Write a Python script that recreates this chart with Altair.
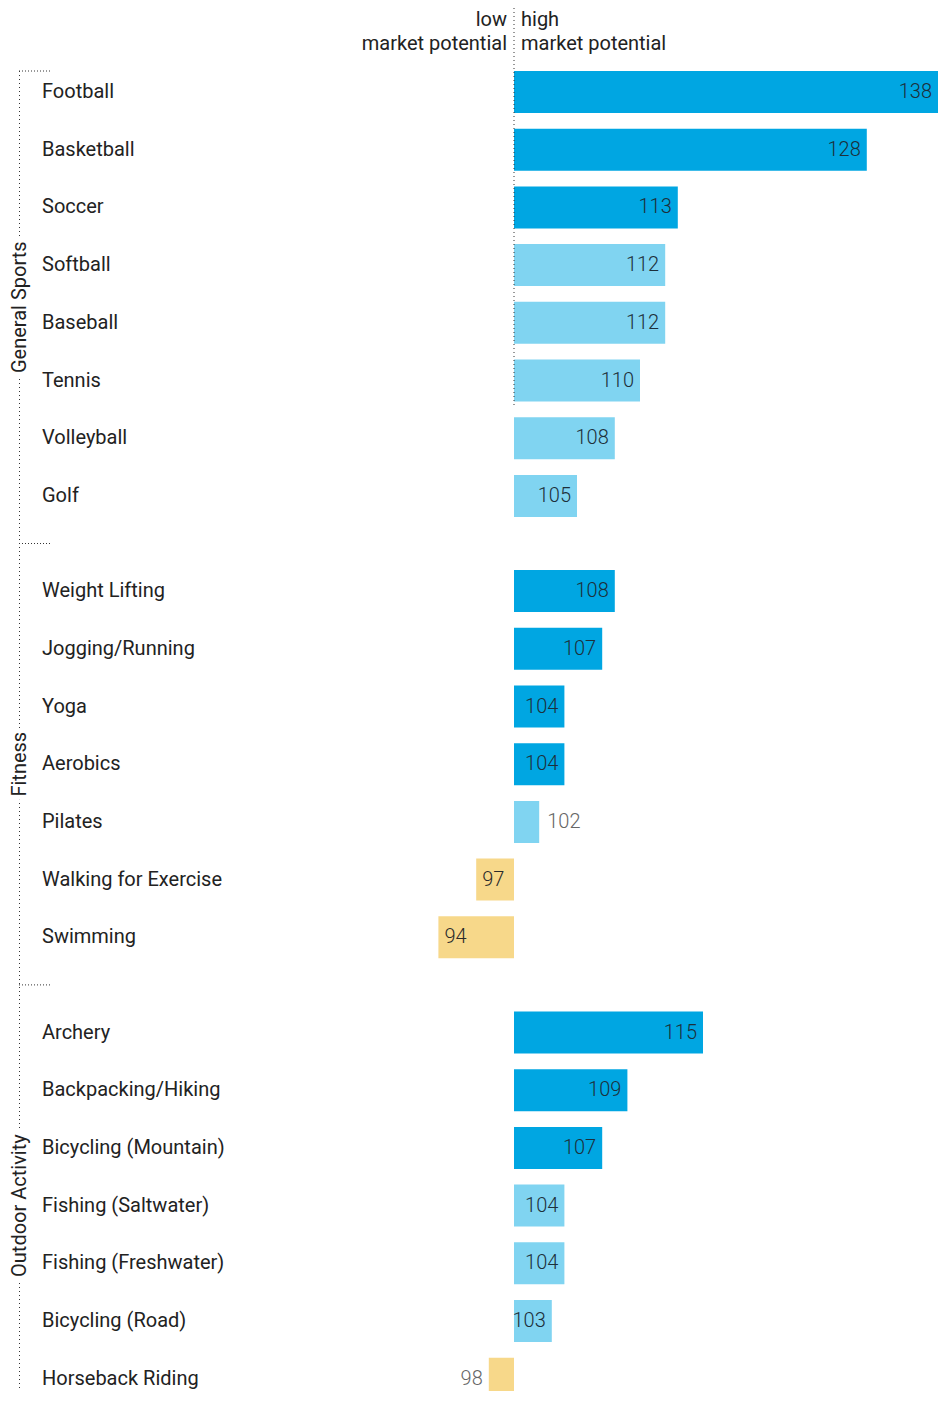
import altair as alt
import pandas as pd

# ---------------- data ----------------
groups = ["General Sports", "Fitness", "Outdoor Activity"]
activities = [
    ["Football", "Basketball", "Soccer", "Softball", "Baseball", "Tennis", "Volleyball", "Golf"],
    ["Weight Lifting", "Jogging/Running", "Yoga", "Aerobics", "Pilates", "Walking for Exercise", "Swimming"],
    ["Archery", "Backpacking/Hiking", "Bicycling (Mountain)", "Fishing (Saltwater)",
     "Fishing (Freshwater)", "Bicycling (Road)", "Horseback Riding"],
]
values = [
    [138, 128, 113, 112, 112, 110, 108, 105],
    [108, 107, 104, 104, 102, 97, 94],
    [115, 109, 107, 104, 104, 103, 98],
]
tiers = [
    ["strong", "strong", "strong", "moderate", "moderate", "moderate", "moderate", "moderate"],
    ["strong", "strong", "strong", "strong", "moderate", "low", "low"],
    ["strong", "strong", "strong", "moderate", "moderate", "moderate", "low"],
]
baseline = 100
header_low = ["low", "market potential"]
header_high = ["high", "market potential"]

tier_domain = ["strong", "moderate", "low"]
tier_colors = ["#00A6E2", "#80D4F1", "#F7D88A"]

# ---------------- layout ----------------
W, H = 930, 1383
TOP = 84       # pixel offset of the first row centre from the top of the plot
X0 = 506       # pixel position of the 100 baseline
PX = 12.6      # pixels per index point
ROW = 57.7     # pixels per row

GAP = 37.5 / ROW   # extra space between groups, in row units
HALF = 21 / ROW    # half bar thickness, in row units

rows = []
grp_rows = []
idx = 0
for g, (gname, names, vals, trs) in enumerate(zip(groups, activities, values, tiers)):
    first = None
    for n, v, t in zip(names, vals, trs):
        pos = idx + g * GAP
        if first is None:
            first = pos
        rows.append(dict(name=n, value=v, tier=t, group=gname, pos=pos,
                         top=pos - HALF, bot=pos + HALF))
        idx += 1
    grp_rows.append(dict(group=gname, first=first, last=pos))
df = pd.DataFrame(rows)

gdf = pd.DataFrame(grp_rows)
starts, ends = [], []
for i in range(len(gdf)):
    if i == 0:
        starts.append(gdf.loc[i, "first"] - HALF)
    else:
        starts.append((gdf.loc[i - 1, "last"] + gdf.loc[i, "first"]) / 2)
    if i == len(gdf) - 1:
        ends.append(gdf.loc[i, "last"] + (1 + GAP) / 2)
    else:
        ends.append((gdf.loc[i, "last"] + gdf.loc[i + 1, "first"]) / 2)
gdf["start"] = starts
gdf["end"] = ends
gdf["mid"] = (gdf["start"] + gdf["end"]) / 2

ymin = -TOP / ROW
ymax = (H - TOP) / ROW

bracket = pd.DataFrame({"start": [gdf["start"].min()], "end": [gdf["end"].max()]})
center_line = pd.DataFrame({"y0": [ymin], "y1": [df.loc[df.name == "Tennis", "bot"].iloc[0] + 0.09]})
one = pd.DataFrame({"a": [0]})

xscale = alt.Scale(domain=[baseline - X0 / PX, baseline + (W - X0) / PX],
                   nice=False, zero=False, clamp=True)
yscale = alt.Scale(domain=[ymin, ymax], nice=False, zero=False, reverse=True)

FONT = "Roboto"
TXT = "#222222"

base = alt.Chart(df)

bars = base.mark_bar().encode(
    x=alt.X("value:Q", scale=xscale, axis=None),
    x2=alt.X2(datum=baseline),
    y=alt.Y("top:Q", scale=yscale, axis=None),
    y2="bot:Q",
    color=alt.Color("tier:N", scale=alt.Scale(domain=tier_domain, range=tier_colors), legend=None),
)


def vlabel(filt, align, dx, color):
    return base.transform_filter(filt).mark_text(
        align=align, baseline="middle", dx=dx, font=FONT, fontSize=20,
        fontWeight=300, color=color
    ).encode(
        x=alt.X("value:Q", scale=xscale, axis=None),
        y=alt.Y("pos:Q", scale=yscale, axis=None),
        text="value:Q",
    )


lab_pos_in = vlabel(alt.datum.value >= baseline + 3, "right", -6, "#1d2f3a")
lab_pos_out = vlabel((alt.datum.value > baseline) & (alt.datum.value < baseline + 3), "left", 8, "#666666")
lab_neg_in = vlabel(alt.datum.value <= baseline - 3, "left", 6, "#2a2a2a")
lab_neg_out = vlabel((alt.datum.value < baseline) & (alt.datum.value > baseline - 3), "right", -6, "#666666")

cat_labels = base.mark_text(
    align="left", baseline="middle", font=FONT, fontSize=20, color=TXT
).encode(
    x=alt.value(34),
    y=alt.Y("pos:Q", scale=yscale, axis=None),
    text="name:N",
)

head_low = alt.Chart(one).mark_text(
    text=header_low, align="right", baseline="alphabetic", dx=-7, lineHeight=24,
    font=FONT, fontSize=20, color=TXT
).encode(x=alt.X(datum=baseline, type="quantitative", scale=xscale, axis=None), y=alt.value(18))

head_high = alt.Chart(one).mark_text(
    text=header_high, align="left", baseline="alphabetic", dx=7, lineHeight=24,
    font=FONT, fontSize=20, color=TXT
).encode(x=alt.X(datum=baseline, type="quantitative", scale=xscale, axis=None), y=alt.value(18))

mid_rule = alt.Chart(center_line).mark_rule(color="#333333", strokeDash=[1, 3], strokeWidth=1).encode(
    x=alt.X(datum=baseline, type="quantitative", scale=xscale, axis=None),
    y=alt.Y("y0:Q", scale=yscale, axis=None),
    y2="y1:Q",
)

bracket_v = alt.Chart(bracket).mark_rule(color="#333333", strokeDash=[1, 3], strokeWidth=1).encode(
    x=alt.value(11.5),
    y=alt.Y("start:Q", scale=yscale, axis=None),
    y2="end:Q",
)

bracket_h = alt.Chart(gdf).mark_rule(color="#333333", strokeDash=[1, 2], strokeWidth=1).encode(
    x=alt.value(11),
    x2=alt.value(42),
    y=alt.Y("start:Q", scale=yscale, axis=None),
)

grp_halo = alt.Chart(gdf).mark_text(
    angle=270, align="center", baseline="middle", font=FONT, fontSize=20,
    color="white", stroke="white", strokeWidth=10
).encode(
    x=alt.value(11.5),
    y=alt.Y("mid:Q", scale=yscale, axis=None),
    text="group:N",
)

grp_text = alt.Chart(gdf).mark_text(
    angle=270, align="center", baseline="middle", font=FONT, fontSize=20, color=TXT
).encode(
    x=alt.value(11.5),
    y=alt.Y("mid:Q", scale=yscale, axis=None),
    text="group:N",
)

chart = alt.layer(
    bars, mid_rule, lab_pos_in, lab_pos_out, lab_neg_in, lab_neg_out, cat_labels,
    head_low, head_high, bracket_v, bracket_h, grp_halo, grp_text,
).properties(
    width=W, height=H, autosize=alt.AutoSizeParams(type="none"), padding=0,
).configure_view(stroke=None)

chart.save("out.html", embed_options={"renderer": "svg", "actions": False})
